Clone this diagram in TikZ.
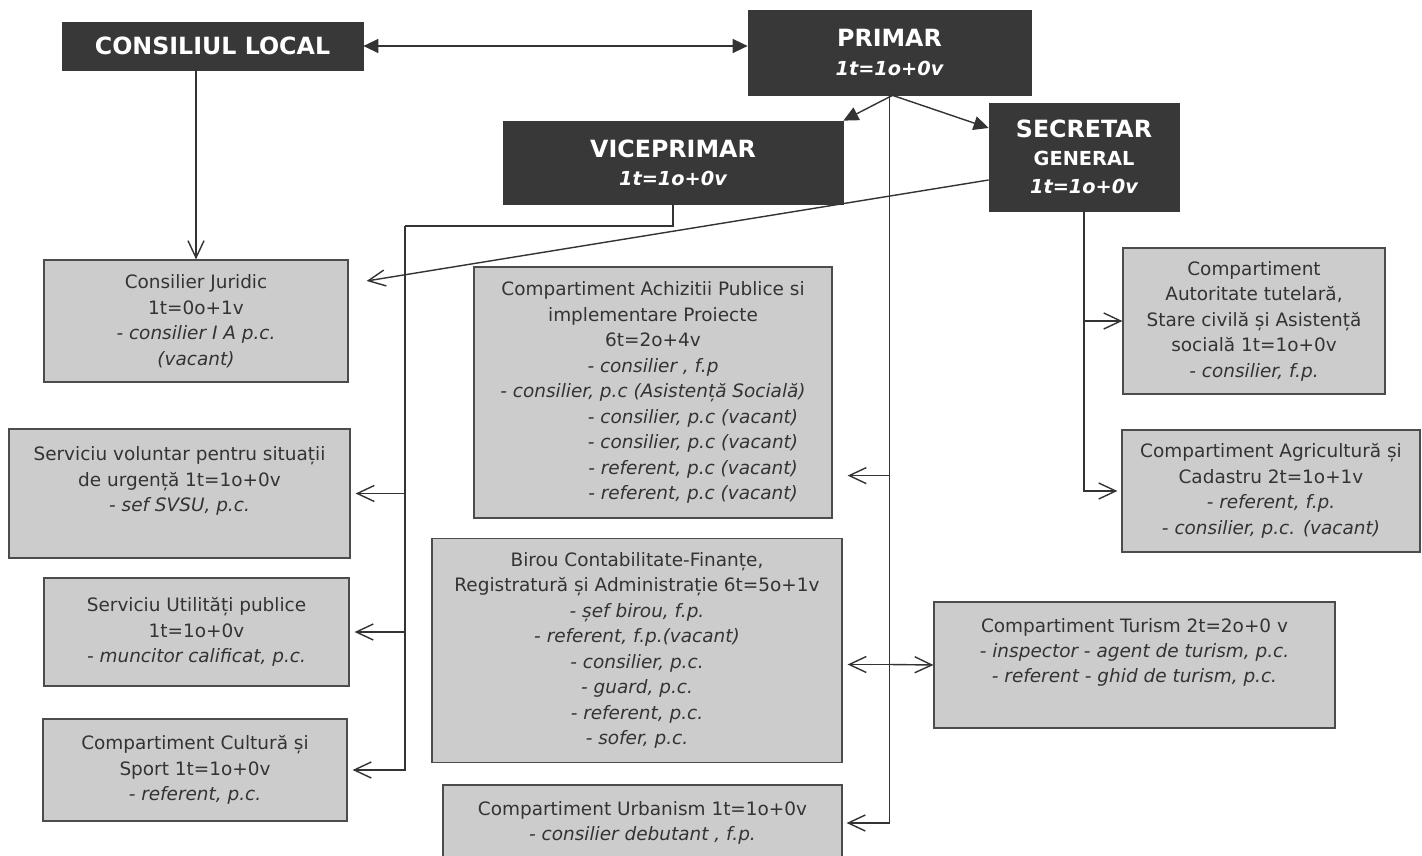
\documentclass[tikz,border=0pt]{standalone}
\usepackage{fontspec}
\setmainfont{DejaVu Sans}
\usetikzlibrary{arrows.meta}
\newcommand{\posturi}[1]{{\fontsize{11}{16}\selectfont\itshape #1}}
\begin{document}
\begin{tikzpicture}[x=0.2mm,y=-0.2mm,
  darkbox/.style={fill=black!78,draw=black!78,text=white,align=center,inner sep=0pt,
    font=\fontsize{13.5}{16}\selectfont\bfseries},
  greybox/.style={fill=black!20,draw=black!70,line width=0.7pt,text=black!80,align=center,
    inner sep=0pt,font=\fontsize{10.5}{14.5}\selectfont},
  conn/.style={draw=black!80,line width=0.8pt},
  tri/.style={conn,-{Triangle[length=3mm,width=2.8mm]}},
  dbl/.style={conn,{Triangle[length=3mm,width=2.8mm]}-{Triangle[length=3mm,width=2.8mm]}},
  barb/.style={conn,-{Straight Barb[length=3.4mm,width=3.2mm]}}]
  \fill[white] (0,0) rectangle (1422,856);
  \useasboundingbox (0,0) rectangle (1422,856);

  % conducere
  \node[darkbox,minimum width=60.2mm,minimum height=9.6mm] (cl) at (212.5,46) {CONSILIUL LOCAL};
  \node[darkbox,minimum width=56.6mm,minimum height=17mm] (primar) at (889.5,52.5) {PRIMAR\\\posturi{1t=1o+0v}};
  \node[darkbox,minimum width=68mm,minimum height=16.6mm] (vice) at (673,162.5) {VICEPRIMAR\\\posturi{1t=1o+0v}};
  \node[darkbox,minimum width=38mm,minimum height=21.6mm] (secretar) at (1084,157)
    {SECRETAR\\{\fontsize{11}{14}\selectfont GENERAL}\\\posturi{1t=1o+0v}};

  % compartimente stanga
  \node[greybox,minimum width=60.8mm,minimum height=24.4mm] (juridic) at (196,321)
    {Consilier Juridic\\1t=0o+1v\\\textit{- consilier I A p.c.}\\\textit{(vacant)}};
  \node[greybox,minimum width=68.2mm,minimum height=25.8mm] (voluntar) at (179.5,493.5)
    {Serviciu voluntar pentru situații\\de urgență 1t=1o+0v\\\textit{- sef SVSU, p.c.}\\[2pt]\mbox{}};
  \node[greybox,minimum width=61mm,minimum height=21.6mm] (utilitati) at (196.5,632)
    {Serviciu Utilități publice\\1t=1o+0v\\\textit{- muncitor calificat, p.c.}};
  \node[greybox,minimum width=60.8mm,minimum height=20.4mm] (cultura) at (195,770)
    {Compartiment Cultură și\\Sport 1t=1o+0v\\\textit{- referent, p.c.}};

  % compartimente centru
  \node[greybox,minimum width=71.6mm,minimum height=50.2mm] (achizitii) at (653,392.5)
    {Compartiment Achizitii Publice si\\implementare Proiecte\\6t=2o+4v\\\textit{- consilier , f.p}\\
     \textit{- consilier, p.c (Asistență Socială)}\\
     \hspace*{16mm}\textit{- consilier, p.c (vacant)}\\\hspace*{16mm}\textit{- consilier, p.c (vacant)}\\
     \hspace*{16mm}\textit{- referent, p.c (vacant)}\\\hspace*{16mm}\textit{- referent, p.c (vacant)}};
  \node[greybox,minimum width=82mm,minimum height=44.8mm] (birou) at (637,650.5)
    {Birou Contabilitate-Finanțe,\\Registratură și Administrație 6t=5o+1v\\\textit{- șef birou, f.p.}\\
     \textit{- referent, f.p.(vacant)}\\\textit{- consilier, p.c.}\\\textit{- guard, p.c.}\\
     \textit{- referent, p.c.}\\\textit{- sofer, p.c.}};
  \node[greybox,minimum width=79.8mm,minimum height=15.2mm] (urbanism) at (642.5,823)
    {Compartiment Urbanism 1t=1o+0v\\\textit{- consilier debutant , f.p.}};

  % compartimente dreapta
  \node[greybox,minimum width=52.4mm,minimum height=29.2mm] (autoritate) at (1254,321)
    {Compartiment\\Autoritate tutelară,\\Stare civilă și Asistență\\socială 1t=1o+0v\\\textit{- consilier, f.p.}};
  \node[greybox,minimum width=59.6mm,minimum height=24.4mm] (agricultura) at (1271,491)
    {Compartiment Agricultură și\\Cadastru 2t=1o+1v\\\textit{- referent, f.p.}\\\textit{- consilier, p.c. (vacant)}};
  \node[greybox,minimum width=80.2mm,minimum height=25.2mm] (turism) at (1134.5,665)
    {Compartiment Turism 2t=2o+0 v\\\textit{- inspector - agent de turism, p.c.}\\
     \textit{- referent - ghid de turism, p.c.}\\[2pt]\mbox{}};

  % legaturi conducere
  \draw[dbl] (cl.east) -- (cl.east -| primar.west);
  \draw[barb] (cl.south -| juridic.north) -- (juridic.north);
  \draw[tri] ([xshift=0.6mm]primar.south) -- (vice.north east);
  \draw[tri] ([xshift=0.6mm]primar.south) -- ([yshift=5.8mm]secretar.west);
  \draw[barb] ([yshift=-4.6mm]secretar.west) -- ([shift={(3.6mm,8mm)}]juridic.east);

  % viceprimar
  \coordinate (vbus) at (405,226);
  \draw[conn] (vice.south) |- (vbus);
  \draw[barb] (vbus) |- ([xshift=1mm]cultura.east);
  \draw[barb] (vbus |- voluntar.east) -- ([xshift=1mm]voluntar.east);
  \draw[barb] (vbus |- utilitati.east) -- ([xshift=1mm]utilitati.east);

  % primar
  \coordinate (ach) at ([shift={(3mm,8.6mm)}]achizitii.south east);
  \coordinate (bir) at ([shift={(1mm,-2.8mm)}]birou.east);
  \draw[barb] (primar.south) |- ([xshift=0.8mm]urbanism.east);
  \draw[barb] (primar.south |- ach) -- (ach);
  \draw[barb] (primar.south |- bir) -- (bir);
  \draw[barb] (primar.south |- bir) -- (turism.west);

  % secretar
  \draw[barb] (secretar.south) |- ([xshift=-0.8mm]agricultura.west);
  \draw[barb] (secretar.south |- autoritate.west) -- (autoritate.west);
\end{tikzpicture}
\end{document}
